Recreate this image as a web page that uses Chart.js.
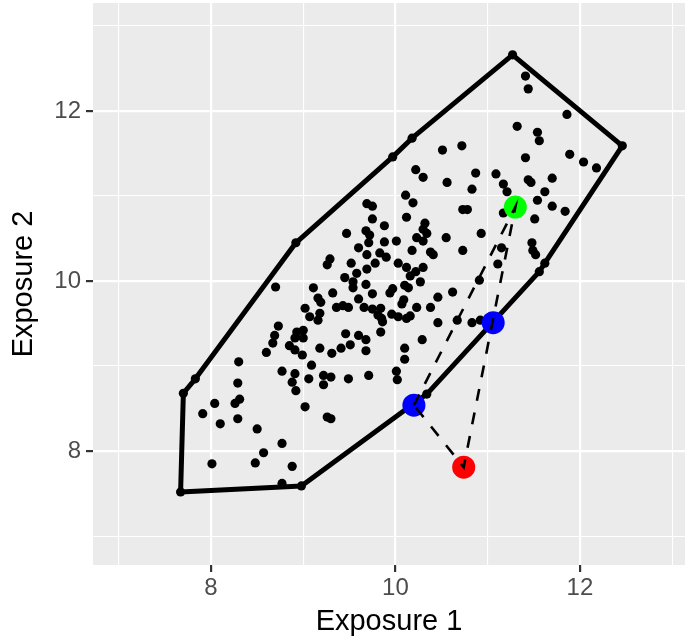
<!DOCTYPE html>
<html>
<head>
<meta charset="utf-8">
<script src="https://cdn.jsdelivr.net/npm/chart.js@4.4.1/dist/chart.umd.min.js"></script>
<style>
    body { margin: 0; background: #ffffff; }
    canvas { display: block; }
</style>
</head>
<body>
<canvas id="exposureChart" width="689" height="639"></canvas>
<script>
// black sample points
const pointsX = [
    10.51, 10.72, 10.22, 10.30, 10.56, 11.41, 11.44, 11.86, 11.32, 11.54,
    11.56, 11.41, 11.89, 12.04, 12.18, 10.87, 11.09, 11.17, 11.44, 11.47,
    11.70, 10.83, 11.21, 11.62, 11.54, 11.70, 11.84, 10.73, 10.78, 11.17,
    11.51, 10.93, 10.73, 11.15, 11.48, 11.49, 11.52, 11.11, 11.62, 11.56,
    10.91, 10.83, 10.92,
    11.27, 12.46, 10.18, 9.97, 8.92, 7.83, 7.70, 7.67, 8.98, 10.34,
    10.11, 10.19, 9.69, 9.75, 10.12, 9.75, 9.88, 9.47, 9.68, 9.72,
    10.32, 10.30, 10.34, 10.23, 10.30, 10.55, 10.01, 9.88, 9.71, 9.60,
    10.18, 10.38, 10.41, 9.69, 9.83, 9.90, 9.29, 9.26, 9.52, 9.78,
    9.69, 9.58, 10.03, 10.12, 10.30, 10.22, 10.16, 9.45, 9.54, 9.54,
    9.68, 10.27, 10.10, 10.14, 9.97, 9.94, 9.75, 9.11, 9.32, 9.60,
    10.46, 10.62, 9.16, 9.19, 10.09, 10.07, 9.36, 9.43, 9.49, 9.66,
    9.75, 9.84, 10.23, 10.38, 9.07, 9.18, 9.16, 9.81, 9.85, 9.96,
    10.03, 10.12, 10.16, 9.86, 10.46, 10.67, 9.84, 9.46, 9.60,
    9.18, 9.31, 9.41, 9.51, 9.68, 9.68, 10.10, 10.29,
    8.70, 9.02, 8.73, 8.69, 9.00, 8.93, 8.91, 9.00, 8.67, 8.60,
    8.85, 8.91, 8.99,
    9.09, 8.30, 8.77, 8.91, 8.88, 9.06, 8.92, 8.29, 9.02, 8.31,
    8.26, 8.04, 7.91, 8.10, 8.29, 8.50, 8.77, 8.57, 8.48, 8.01,
    8.88, 8.77,
    10.10, 9.22, 9.30, 9.22, 9.49, 9.71, 10.01, 10.02, 9.26, 9.30
];
const pointsY = [
    11.54, 11.59, 11.31, 11.22, 11.16, 12.41, 12.26, 11.96, 11.82, 11.75,
    11.65, 11.45, 11.49, 11.40, 11.33, 11.27, 11.26, 11.14, 11.19, 11.16,
    11.21, 11.08, 11.05, 11.05, 10.95, 10.88, 10.82, 10.84, 10.84, 10.80,
    10.73, 10.56, 10.36, 10.39, 10.45, 10.36, 10.31, 10.20, 10.21, 10.11,
    10.01, 9.51, 9.54,
    12.66, 11.59, 11.68, 11.46, 10.45, 8.85, 8.68, 7.52, 7.59, 8.67,
    11.01, 10.92, 10.91, 10.88, 10.75, 10.73, 10.65, 10.56, 10.59, 10.54,
    10.68, 10.61, 10.56, 10.51, 10.47, 10.51, 10.47, 10.46, 10.45, 10.39,
    10.36, 10.34, 10.31, 10.31, 10.33, 10.28, 10.26, 10.19, 10.21, 10.21,
    10.14, 10.09, 10.21, 10.16, 10.16, 10.11, 10.06, 10.04, 9.99, 9.92,
    9.96, 9.99, 9.95, 9.92, 9.91, 9.86, 9.85, 9.92, 9.86, 9.79,
    9.81, 9.87, 9.80, 9.75, 9.78, 9.73, 9.69, 9.71, 9.69, 9.69,
    9.67, 9.68, 9.69, 9.69, 9.58, 9.62, 9.54, 9.60, 9.56, 9.61,
    9.58, 9.56, 9.59, 9.52, 9.51, 9.54, 9.40, 9.38, 9.36,
    9.21, 9.15, 9.21, 9.25, 9.31, 9.18, 9.21, 9.31,
    9.93, 9.68, 9.47, 9.36, 9.42, 9.40, 9.33, 9.33, 9.27, 9.16,
    9.24, 9.19, 9.13,
    9.01, 9.05, 8.94, 8.91, 8.81, 8.85, 8.71, 8.80, 8.52, 8.61,
    8.56, 8.56, 8.44, 8.32, 8.38, 8.26, 8.09, 7.98, 7.86, 7.85,
    7.82, 7.62,
    9.08, 8.89, 8.87, 8.78, 8.85, 8.89, 8.94, 8.84, 8.40, 8.38
];

// convex hull outline, in drawing order (closed)
const hullX = [7.67, 7.70, 7.83, 8.92, 9.97, 10.18, 11.27, 12.46, 11.62, 11.56, 10.34, 8.98, 7.67];
const hullY = [7.52, 8.68, 8.85, 10.45, 11.46, 11.68, 12.66, 11.59, 10.21, 10.11, 8.67, 7.59, 7.52];

// highlighted points: green, blue, blue, red
const specialX = [11.30, 11.06, 10.20, 10.74];
const specialY = [10.87, 9.51, 8.54, 7.81];
const specialColors = ["#00FF00", "#0000FF", "#0000FF", "#FF0000"];
const dashPath = [2, 0, 3, 2];

const xTicks = [7, 8, 9, 10, 11, 12, 13];
const yTicks = [7, 8, 9, 10, 11, 12, 13];
const xLabels = [8, 10, 12];
const yLabels = [8, 10, 12];
const xRange = [6.72, 13.14];
const yRange = [6.66, 13.27];

function toPoints(xs, ys) {
    return xs.map((x, i) => ({ x: x, y: ys[i] }));
}

const panelBackground = {
    id: "panelBackground",
    beforeDraw(chart) {
        const { ctx, chartArea } = chart;
        ctx.save();
        ctx.fillStyle = "#EBEBEB";
        ctx.fillRect(chartArea.left, chartArea.top, chartArea.right - chartArea.left, chartArea.bottom - chartArea.top);
        ctx.restore();
    },
};

function axisOptions(range, ticks, labels, title, isX) {
    return {
        type: "linear",
        min: range[0],
        max: range[1],
        afterBuildTicks: (scale) => {
            scale.ticks = ticks.map((v) => ({ value: v }));
        },
        afterFit: (scale) => {
            // no extra room for half labels at the ends
            scale.paddingTop = 0;
            scale.paddingBottom = 0;
            scale.paddingLeft = 0;
            scale.paddingRight = 0;
            if (isX) {
                scale.height = 74;
            } else {
                scale.width = 93;
            }
        },
        border: { display: false },
        grid: {
            color: "#FFFFFF",
            lineWidth: (ctx) => (labels.includes(ctx.tick.value) ? 2.2 : 1.1),
            tickColor: (ctx) => (labels.includes(ctx.tick.value) ? "#333333" : "rgba(0,0,0,0)"),
            tickLength: 7,
            tickWidth: 2.2,
        },
        ticks: {
            autoSkip: false,
            maxRotation: 0,
            padding: isX ? 2 : 5,
            color: "#4D4D4D",
            font: { size: 24 },
            callback: (value) => (labels.includes(value) ? String(value) : ""),
        },
        title: {
            display: true,
            text: title,
            color: "#000000",
            font: { size: 29 },
            padding: { top: isX ? 0 : 7, bottom: 0 },
        },
    };
}

Chart.defaults.font.family = "'Liberation Sans', Arial, sans-serif";

const dashData = dashPath.map((i) => ({ x: specialX[i], y: specialY[i] }));

new Chart(document.getElementById("exposureChart"), {
    type: "scatter",
    data: {
        datasets: [
            {
                data: dashData,
                showLine: true,
                borderColor: "#000000",
                borderWidth: 2.6,
                borderDash: [12, 12],
                pointRadius: 0,
                order: 0,
            },
            {
                data: toPoints(specialX, specialY),
                backgroundColor: specialColors,
                borderWidth: 0,
                pointRadius: 11.5,
                order: 1,
            },
            {
                data: toPoints(hullX, hullY),
                showLine: true,
                borderColor: "#000000",
                borderWidth: 5,
                borderJoinStyle: "round",
                borderCapStyle: "round",
                pointRadius: 0,
                order: 2,
            },
            {
                data: toPoints(pointsX, pointsY),
                backgroundColor: "#000000",
                borderWidth: 0,
                pointRadius: 4.6,
                order: 3,
            },
        ],
    },
    options: {
        responsive: false,
        animation: false,
        devicePixelRatio: 1,
        layout: { autoPadding: false, padding: { top: 3, right: 4, left: 0, bottom: 0 } },
        plugins: {
            legend: { display: false },
            tooltip: { enabled: false },
        },
        scales: {
            x: axisOptions(xRange, xTicks, xLabels, "Exposure 1", true),
            y: axisOptions(yRange, yTicks, yLabels, "Exposure 2", false),
        },
    },
    plugins: [panelBackground],
});
</script>
</body>
</html>
